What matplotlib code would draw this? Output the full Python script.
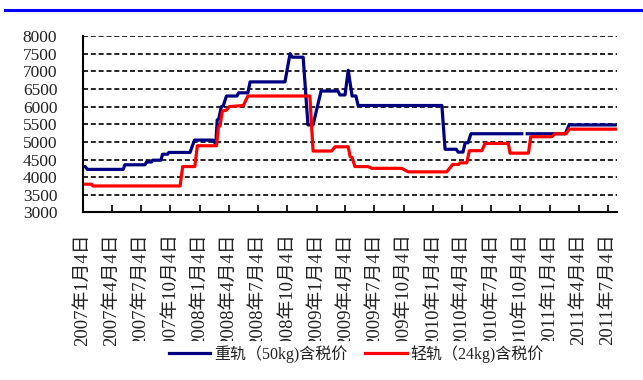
import numpy as np
import pandas as pd
import matplotlib
matplotlib.use("Agg")
import matplotlib.pyplot as plt
from matplotlib.patches import Rectangle
from matplotlib.lines import Line2D

plt.rcParams['font.family'] = ['Liberation Serif', 'Noto Sans CJK SC']

# 重轨（50kg）含税价, 元/吨
heavy_dates = [
    '2007-01-04', '2007-01-11', '2007-01-18', '2007-05-10', '2007-05-15',
    '2007-07-17', '2007-07-22', '2007-08-07', '2007-08-10', '2007-09-05',
    '2007-09-10', '2007-09-26', '2007-09-30', '2007-12-05', '2007-12-19',
    '2008-02-15', '2008-02-20', '2008-02-24', '2008-02-28', '2008-03-04',
    '2008-03-12', '2008-03-18', '2008-03-28', '2008-04-30', '2008-05-05',
    '2008-06-03', '2008-06-10', '2008-09-27', '2008-10-13', '2008-10-20',
    '2008-11-23', '2008-12-08', '2008-12-24', '2009-01-18', '2009-03-12',
    '2009-03-18', '2009-04-03', '2009-04-13', '2009-04-25', '2009-05-07',
    '2009-05-14', '2010-01-31', '2010-02-10', '2010-03-17', '2010-03-23',
    '2010-04-07', '2010-04-14', '2010-04-23', '2010-05-02', '2010-10-08',
    '2010-10-16', '2010-10-25', '2011-02-21', '2011-03-05', '2011-03-09',
    '2011-03-14', '2011-07-30',
]
heavy_prices = [
    4300, 4300, 4220, 4220, 4350,
    4350, 4430, 4430, 4480, 4480,
    4650, 4650, 4700, 4700, 5050,
    5050, 4980, 4980, 5620, 5650,
    6000, 6020, 6300, 6300, 6390,
    6390, 6700, 6700, 7500, 7400,
    7400, 5480, 5480, 6440, 6440,
    6330, 6330, 7030, 6300, 6300,
    6030, 6030, 4790, 4790, 4710,
    4710, 4975, 4975, 5230, 5230,
    np.nan, 5230, 5230, 5480, np.nan,
    5480, 5480,
]

# 轻轨（24kg）含税价, 元/吨
light_dates = [
    '2007-01-04', '2007-01-31', '2007-02-04', '2007-11-04', '2007-11-12',
    '2007-12-20', '2007-12-28', '2008-02-26', '2008-03-03', '2008-03-08',
    '2008-03-15', '2008-03-28', '2008-04-06', '2008-05-20', '2008-06-03',
    '2008-12-14', '2008-12-24', '2009-02-20', '2009-03-03', '2009-04-13',
    '2009-04-19', '2009-04-25', '2009-05-04', '2009-06-14', '2009-06-26',
    '2009-09-27', '2009-10-18', '2010-02-15', '2010-03-06', '2010-03-24',
    '2010-03-29', '2010-04-19', '2010-04-27', '2010-06-05', '2010-06-15',
    '2010-08-27', '2010-09-01', '2010-10-29', '2010-11-05', '2011-01-10',
    '2011-01-20', '2011-02-24', '2011-03-05', '2011-03-09', '2011-03-14',
    '2011-07-30',
]
light_prices = [
    3800, 3800, 3750, 3750, 4300,
    4300, 4890, 4890, 5430, 5450,
    5870, 5900, 6000, 6030, 6300,
    6300, 4740, 4740, 4860, 4860,
    4580, 4560, 4300, 4300, 4250,
    4250, 4150, 4150, 4360, 4360,
    4405, 4405, 4750, 4750, 4955,
    4955, 4680, 4680, 5145, 5145,
    5230, 5230, 5360, np.nan, 5360,
    5360,
]

tick_dates = [
    '2007-01-04', '2007-04-04', '2007-07-04', '2007-10-04',
    '2008-01-04', '2008-04-04', '2008-07-04', '2008-10-04',
    '2009-01-04', '2009-04-04', '2009-07-04', '2009-10-04',
    '2010-01-04', '2010-04-04', '2010-07-04', '2010-10-04',
    '2011-01-04', '2011-04-04', '2011-07-04',
]
tick_labels = [
    '2007年1月4日', '2007年4月4日', '2007年7月4日', '2007年10月4日',
    '2008年1月4日', '2008年4月4日', '2008年7月4日', '2008年10月4日',
    '2009年1月4日', '2009年4月4日', '2009年7月4日', '2009年10月4日',
    '2010年1月4日', '2010年4月4日', '2010年7月4日', '2010年10月4日',
    '2011年1月4日', '2011年4月4日', '2011年7月4日',
]
y_ticks = [3000, 3500, 4000, 4500, 5000, 5500, 6000, 6500, 7000, 7500, 8000]

fig = plt.figure(figsize=(6.43, 3.80), dpi=100)
ax = fig.add_axes([0.129, 0.441, 0.8306, 0.4642])

ax.plot(pd.to_datetime(heavy_dates), heavy_prices, color='#000080', lw=2.3,
        label='重轨（50kg)含税价')
ax.plot(pd.to_datetime(light_dates), light_prices, color='#FF0000', lw=2.3,
        label='轻轨（24kg)含税价')

ax.set_xlim(pd.Timestamp('2007-01-04'), pd.Timestamp('2011-08-02'))
ax.set_ylim(3000, 8000)
ax.set_yticks(y_ticks)
ax.set_xticks(pd.to_datetime(tick_dates))
ax.set_xticklabels(tick_labels, rotation=90, fontsize=13.5, va='top', ha='center',
                   fontweight='light', color='#222222')
ax.tick_params(axis='x', direction='in', length=5, width=1.2, pad=15)
ax.tick_params(axis='y', length=0, pad=18.5, labelsize=12.5, labelcolor='#222222')

ax.yaxis.grid(True, color='black', linewidth=1.2, linestyle=(0, (3, 1.7)))
ax.set_axisbelow(True)
for side in ('top', 'right'):
    ax.spines[side].set_visible(False)
for side in ('left', 'bottom'):
    ax.spines[side].set_linewidth(1.5)

# white band under the legend hides the tail of the date labels
fig.add_artist(Rectangle((0.198, 0.02), 0.682, 0.083, transform=fig.transFigure,
                         facecolor='white', edgecolor='none', zorder=4))
leg = fig.legend(loc='center', bbox_to_anchor=(0.554, 0.068), ncol=2, frameon=False,
                 fontsize=11.5, handlelength=2.6, handletextpad=0.25, columnspacing=1.1)
for t in leg.get_texts():
    t.set_color('#222222')
    t.set_fontweight('light')

# blue rule across the top of the sheet
fig.add_artist(Line2D([0.008, 1.0], [0.975, 0.975], color='#0000FF', lw=2.2))

fig.savefig('out.png', dpi=100)
